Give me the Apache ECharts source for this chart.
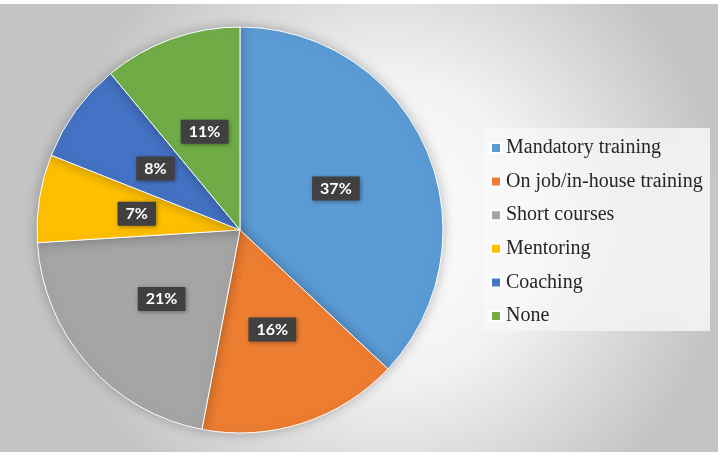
<!DOCTYPE html>
<html><head><meta charset="utf-8">
<script src="https://cdn.jsdelivr.net/npm/echarts@6/dist/echarts.min.js"></script>
<style>html,body{margin:0;padding:0;background:#fff}#c{width:723px;height:456px}</style>
</head><body><div id="c"></div>
<script>
const categories = ['Mandatory training','On job/in-house training','Short courses','Mentoring','Coaching','None'];
const values = [37,16,21,7,8,11];
const colors = ['#5B9BD5','#ED7D31','#A5A5A5','#FFC000','#4472C4','#70AD47'];

const serif = 'Liberation Serif';
const chart = echarts.init(document.getElementById('c'));
chart.setOption({
  animation:false,
  graphic:[
    {type:'rect', shape:{x:0,y:4,width:718,height:448}, z:-10,
     style:{fill:new echarts.graphic.RadialGradient(0.54,0.5,0.75,[{offset:0,color:'#ffffff'},{offset:0.45,color:'#f2f2f2'},{offset:1,color:'#c4c4c4'}])}},
    {type:'rect', shape:{x:483,y:128,width:227,height:203}, z:-5,
     style:{fill:new echarts.graphic.LinearGradient(0,0,1,0,[{offset:0,color:'rgba(255,255,255,0.35)'},{offset:1,color:'rgba(255,255,255,0.75)'}])}}
  ],
  legend:{
    orient:'vertical', left:485, top:133, itemWidth:10, itemHeight:10, itemGap:13.6,
    icon:'rect',
    formatter:'{t|{name}}',
    textStyle:{fontFamily:serif, fontSize:20, color:'#262626',
      rich:{t:{fontFamily:serif, fontSize:20, lineHeight:20, color:'#262626'}}},
    data:categories
  },
  series:[{
    type:'pie', center:[240,230], radius:203, startAngle:90, clockwise:true,
    color:colors,
    itemStyle:{borderColor:'#fff', borderWidth:1, shadowBlur:12, shadowColor:'rgba(0,0,0,0.25)'},
    label:{position:'inside', formatter:'{p|{d}%}',
      color:'#fff', backgroundColor:'#404040', padding:[4,8,4,8], borderRadius:1,
      shadowBlur:4, shadowColor:'rgba(0,0,0,0.4)', shadowOffsetX:1, shadowOffsetY:1,
      rich:{p:{fontFamily:'Lato', fontWeight:'bold', fontSize:16, color:'#fff'}}},
    labelLine:{show:false},
    emphasis:{disabled:true},
    data:categories.map((n,i)=>({name:n, value:values[i]}))
  }]
});
</script></body></html>
